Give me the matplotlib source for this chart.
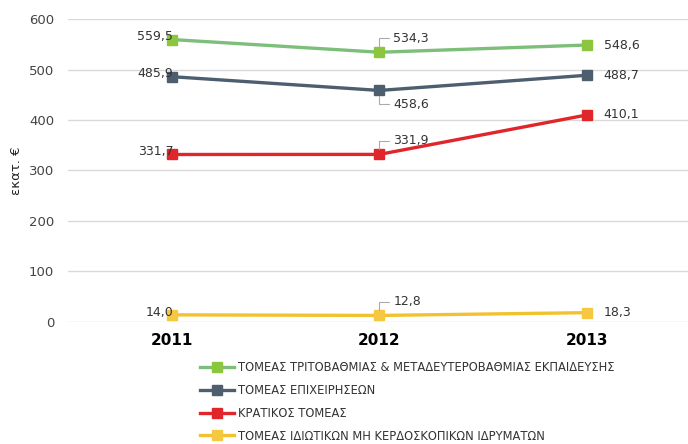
import numpy as np
import matplotlib.pyplot as plt

years = ["2011", "2012", "2013"]
higher_edu = [559.5, 534.3, 548.6]
business = [485.9, 458.6, 488.7]
government = [331.7, 331.9, 410.1]
private_np = [14.0, 12.8, 18.3]

names = ["ΤΟΜΕΑΣ ΤΡΙΤΟΒΑΘΜΙΑΣ & ΜΕΤΑΔΕΥΤΕΡΟΒΑΘΜΙΑΣ ΕΚΠΑΙΔΕΥΣΗΣ",
         "ΤΟΜΕΑΣ ΕΠΙΧΕΙΡΗΣΕΩΝ",
         "ΚΡΑΤΙΚΟΣ ΤΟΜΕΑΣ",
         "ΤΟΜΕΑΣ ΙΔΙΩΤΙΚΩΝ ΜΗ ΚΕΡΔΟΣΚΟΠΙΚΩΝ ΙΔΡΥΜΑΤΩΝ"]
line_colors = ["#7dbe7a", "#4d5e6e", "#e0262a", "#f2c12e"]
marker_colors = ["#8cc63f", "#4d5e6e", "#e0262a", "#f5c842"]
# where the 2012 label goes: above or below the point
mid_pos = ["up", "down", "up", "up"]

fig = plt.figure(figsize=(6.88, 4.44), dpi=100)
ax = fig.add_axes([0.099, 0.275, 0.905, 0.682])

x = np.arange(len(years))
series = [higher_edu, business, government, private_np]
handles = []
for vals, name, lc, mc, pos in zip(series, names, line_colors, marker_colors, mid_pos):
    h, = ax.plot(x, vals, color=lc, lw=2.4, marker="s", ms=6.5,
                 mfc=mc, mec=mc, label=name, zorder=3)
    handles.append(h)
    fmt = lambda v: f"{v:.1f}".replace(".", ",")
    ax.annotate(fmt(vals[0]), (x[0], vals[0]), xytext=(1, 2), textcoords="offset points",
                ha="right", va="center", fontsize=9, color="#333333", zorder=4)
    ax.annotate(fmt(vals[2]), (x[2], vals[2]), xytext=(12, 0), textcoords="offset points",
                ha="left", va="center", fontsize=9, color="#333333", zorder=4)
    dy = 10 if pos == "up" else -10
    ax.annotate(fmt(vals[1]), (x[1], vals[1]), xytext=(10, dy), textcoords="offset points",
                ha="left", va="center", fontsize=9, color="#333333", zorder=4,
                arrowprops=dict(arrowstyle="-", color="#aaaaaa", lw=0.8,
                                connectionstyle="angle,angleA=0,angleB=90",
                                shrinkA=1, shrinkB=4))

ax.set_xlim(-0.5, 2.5)
ax.set_ylim(0, 600)
ax.set_yticks(range(0, 601, 100))
ax.set_xticks(x)
ax.set_xticklabels(years, fontsize=11, fontweight="bold")
ax.tick_params(axis="y", labelsize=9.5, colors="#444444", length=0, pad=10)
ax.tick_params(axis="x", length=0, pad=8)
ax.grid(axis="y", color="#d9d9d9", lw=1)
ax.set_axisbelow(True)
for s in ax.spines.values():
    s.set_visible(False)
ax.set_ylabel("εκατ. €", fontsize=9.5, color="#222222", labelpad=4)

fig.legend(handles=handles, loc="upper left", bbox_to_anchor=(0.275, 0.21),
           frameon=False, fontsize=8.3, handlelength=3, handletextpad=0.3,
           labelspacing=0.85, labelcolor="#333333")

fig.savefig("out.png", dpi=100)
